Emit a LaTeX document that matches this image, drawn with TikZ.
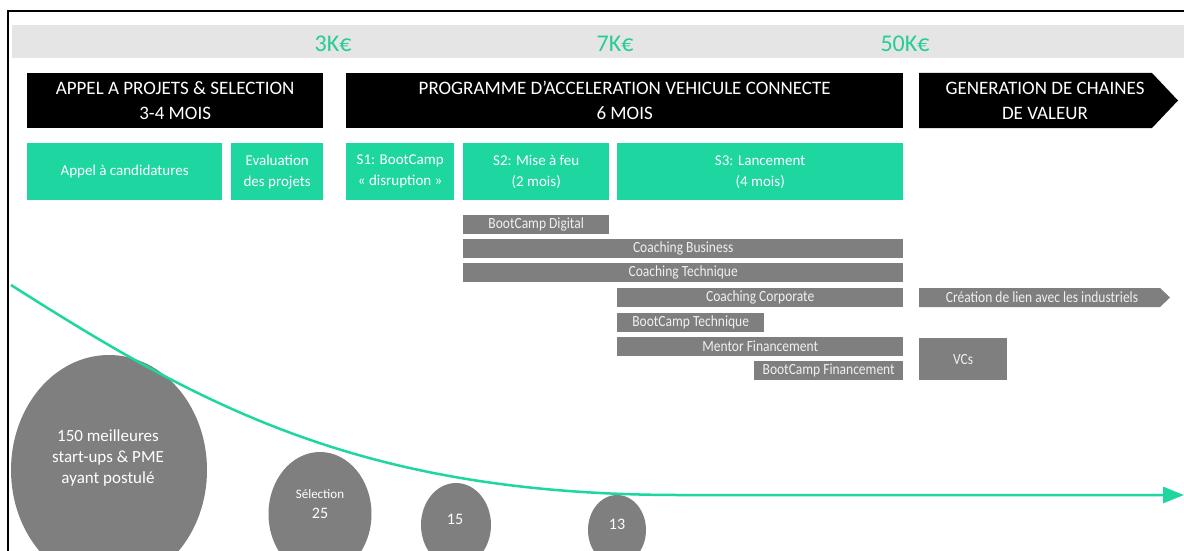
\documentclass[tikz,border=0pt]{standalone}
\usepackage{fontspec}
\usepackage{graphicx}
\setmainfont{Carlito}
\usetikzlibrary{arrows.meta,shapes.geometric}
\definecolor{mint}{RGB}{30,214,160}
\definecolor{mintdark}{RGB}{38,205,152}
\definecolor{bargray}{RGB}{127,127,127}
\definecolor{bandgray}{RGB}{229,229,229}
\definecolor{bartext}{RGB}{240,240,240}
\newcommand\tallt[1]{\scalebox{1}[1.15]{#1}}
\tikzset{
  hdr/.style={anchor=north west, fill=black, text=white, inner sep=0pt, align=center,
    font=\fontsize{19}{25}\selectfont},
  phase/.style={anchor=north west, fill=mint, text=white, inner sep=0pt, align=center,
    font=\fontsize{15}{21}\selectfont},
  gbar/.style={anchor=north west, fill=bargray, text=bartext, inner sep=0pt, align=center,
    font=\fontsize{13.5}{16}\selectfont},
  price/.style={text=mintdark, font=\fontsize{24}{28}\selectfont, inner sep=0pt},
  blob/.style={ellipse, fill=bargray, inner sep=0pt},
  blobtext/.style={text=white, align=center, inner sep=0pt},
}
\begin{document}
\begin{tikzpicture}[x=1pt,y=-1pt]
\useasboundingbox (0,0) rectangle (1184,551);
\fill[white] (0,0) rectangle (1184,551);
% frame
\draw[line width=2.5pt] (8,551) -- (8,11) -- (1184,11);
% band
\fill[bandgray] (12,25) rectangle (1184,58);
\node[price] (p1) at (333,44) {3K€};
\node[price] (p2) at (615,44) {7K€};
\node[price] (p3) at (905,44) {50K€};
% headers
\node[hdr, minimum width=296pt, minimum height=55pt] (h1) at (27,73) {APPEL A PROJETS \& SELECTION\\3-4 MOIS};
\node[hdr, minimum width=557pt, minimum height=55pt] (h2) at (346,73) {PROGRAMME D’ACCELERATION VEHICULE CONNECTE\\6 MOIS};
\fill[black] (919,73) -- (1152,73) -- (1178,100.5) -- (1152,128) -- (919,128) -- cycle;
\node[text=white, align=center, inner sep=0pt, font=\fontsize{19}{25}\selectfont] (h3) at (1045,100.5) {GENERATION DE CHAINES\\DE VALEUR};
% phases
\node[phase, minimum width=195pt, minimum height=57pt] (s0) at (27,143) {Appel à candidatures};
\node[phase, minimum width=92pt, minimum height=57pt] (ev) at (231,143) {Evaluation\\des projets};
\node[phase, minimum width=108pt, minimum height=57pt] (s1) at (346,143) {S1: BootCamp\\« disruption »};
\node[phase, minimum width=146pt, minimum height=57pt] (s2) at (463,143) {S2: Mise à feu\\(2 mois)};
\node[phase, minimum width=286pt, minimum height=57pt] (s3) at (617,143) {S3: Lancement\\(4 mois)};
% bars
\node[gbar, minimum width=146pt, minimum height=19pt] (b1) at (463,215) {\tallt{BootCamp Digital}};
\node[gbar, minimum width=440pt, minimum height=19pt] (b2) at (463,239) {\tallt{Coaching Business}};
\node[gbar, minimum width=440pt, minimum height=19pt] (b3) at (463,263) {\tallt{Coaching Technique}};
\node[gbar, minimum width=286pt, minimum height=19pt] (b4) at (617,288) {\tallt{Coaching Corporate}};
\fill[bargray] (919,288) -- (1160,288) -- (1170,297.5) -- (1160,307) -- (919,307) -- cycle;
\node[text=bartext, inner sep=0pt, font=\fontsize{13.5}{16}\selectfont] (b5) at (1042,297.5) {\tallt{Création de lien avec les industriels}};
\node[gbar, minimum width=147pt, minimum height=19pt] (b6) at (617,313) {\tallt{BootCamp Technique}};
\node[gbar, minimum width=286pt, minimum height=19pt] (b7) at (617,337) {\tallt{Mentor Financement}};
\node[gbar, minimum width=149pt, minimum height=19pt] (b8) at (754,361) {\tallt{BootCamp Financement}};
\node[gbar, minimum width=88pt, minimum height=42pt] (vc) at (919,338) {\tallt{VCs}};
% blobs
\node[blob, minimum width=196pt, minimum height=230pt] (c1) at (109,470) {};
\node[blobtext, font=\fontsize{17}{21}\selectfont] (t1) at (108,458) {150 meilleures\\start-ups \& PME\\ayant postulé};
\node[blob, minimum width=103pt, minimum height=124pt] (c2) at (320,514) {};
\node[blobtext, font=\fontsize{13}{20}\selectfont] (t2) at (320,504) {Sélection\\\fontsize{16}{20}\selectfont 25};
\node[blob, minimum width=70pt, minimum height=84pt] (c3) at (456,525) {};
\node[blobtext, font=\fontsize{16}{20}\selectfont] (t3) at (455,519) {15};
\node[blob, minimum width=58pt, minimum height=70pt] (c4) at (617,530) {};
\node[blobtext, font=\fontsize{16}{20}\selectfont] (t4) at (617,524) {13};
% curve
\coordinate (cs) at (11,285);
\coordinate (ce) at (1184,495);
\draw[mint, line width=2.5pt, -{Triangle[length=21pt,width=16pt]}] (cs) .. controls (200,405) and (360,495) .. (680,495) -- (ce);
\end{tikzpicture}
\end{document}
